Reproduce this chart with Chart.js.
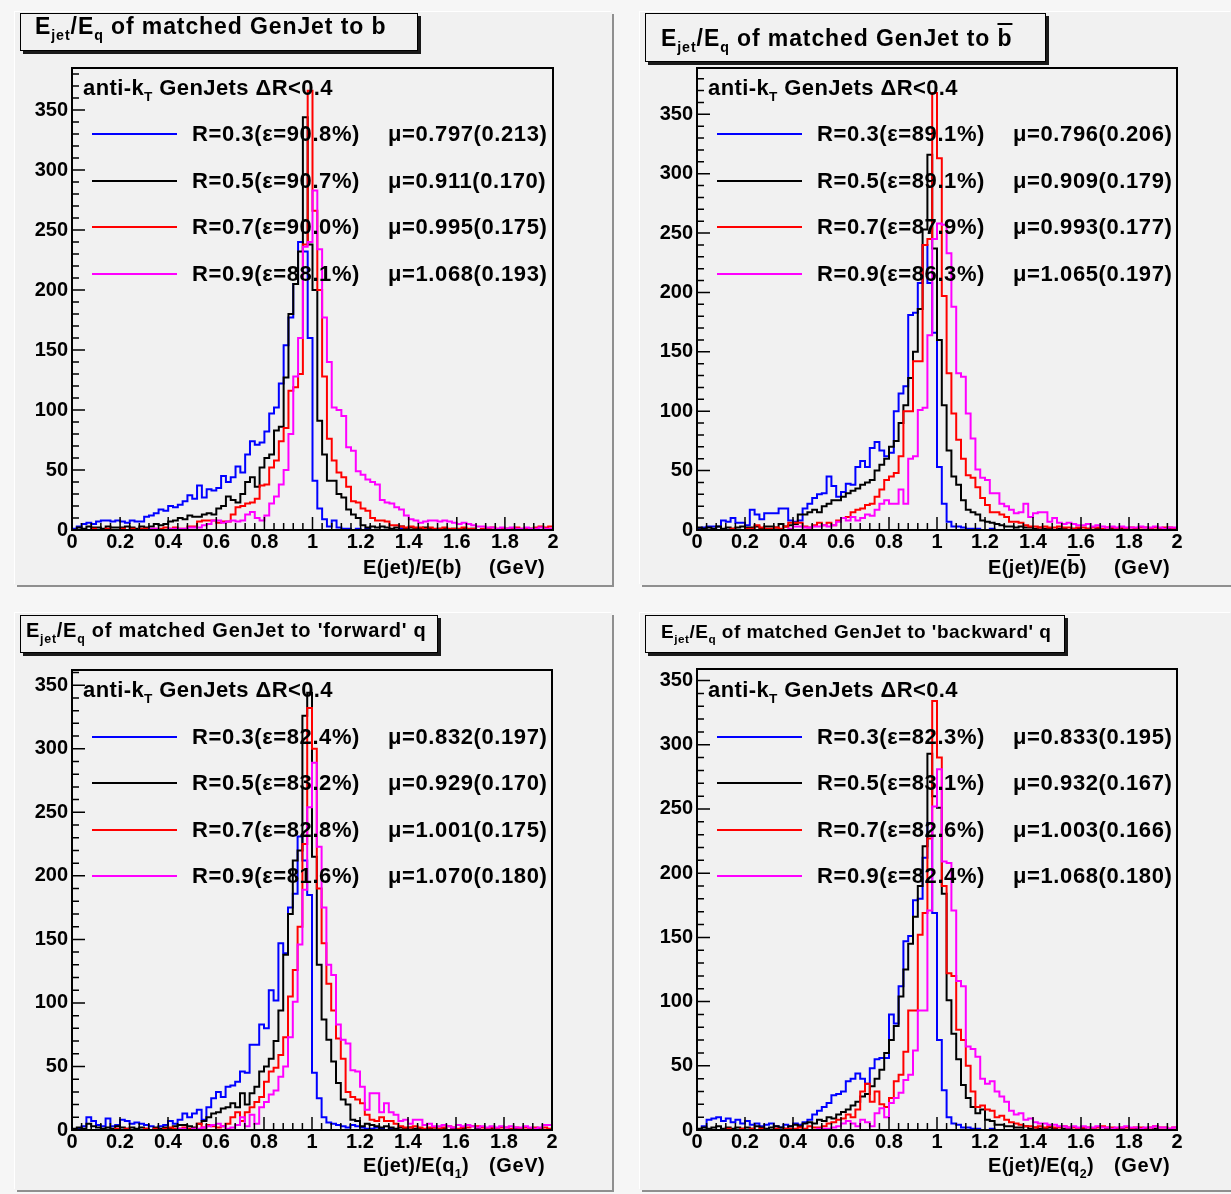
<!DOCTYPE html>
<html lang="en">
<head>
<meta charset="UTF-8">
<title>Ejet/Eq of matched GenJets</title>
<script src="https://cdn.jsdelivr.net/npm/chart.js"></script>
<style>
    body { margin: 0; background: #f6f6f6; width: 1231px; height: 1194px; overflow: hidden; position: relative; font-family: 'Liberation Sans', Arial, sans-serif; }
    .pad { position: absolute; background: #f1f1f1; box-shadow: -1px -1px 0 #ffffff, 2px 2px 0 #8f8f8f; }
    .pad canvas { position: absolute; left: 0; top: 0; }
    .txt { position: absolute; font-weight: bold; white-space: pre; color: #000; line-height: 26px; height: 26px; }
    .txt sub, .title-box sub { font-size: 0.62em; vertical-align: -0.45em; line-height: 0; }
    .title-box { position: absolute; border: 1px solid #000; box-shadow: 3px 3px 0 #1a1a1a; background: #f1f1f1; box-sizing: border-box; font-weight: bold; white-space: pre; }
    .leg-line { position: absolute; height: 2px; width: 85px; }
    .ovl { text-decoration: overline; }
</style>
</head>
<body>

<script>
    // binning of all histograms: 100 bins between 0 and 2
    const nBins = 100, xLow = 0, xHigh = 2;
    const radii = ['0.3', '0.5', '0.7', '0.9'];
    const lineColors = ['#0000ff', '#000000', '#ff0000', '#ff00ff'];

    // matched to b
    const bR03 = [1,3,5,6,5,7,8,8,7,8, 7,6,8,7,7,11,12,14,17,16, 20,19,21,24,29,26,37,27,34,33, 35,45,40,44,53,48,63,74,71,73,
        82,97,102,122,154,177,205,240,232,160, 41,18,9,3,8,2,1,1,0,1, 0,1,0,0,0,0,0,0,1,0, 0,0,0,0,0,0,0,0,0,0, 0,0,0,0,0,0,0,0,0,0, 0,0,0,0,0,0,0,0,0,0];
    const bR05 = [0,2,1,3,2,2,1,3,2,2, 2,3,2,1,3,2,3,5,4,5, 7,8,10,9,12,11,11,13,14,13, 18,20,28,25,23,30,40,44,36,52,
        60,63,83,86,127,180,205,232,344,238, 200,91,63,41,41,30,27,17,13,10, 4,2,3,2,3,2,1,2,3,1, 2,1,1,2,1,0,1,1,0,1, 0,1,0,1,0,0,1,0,0,0, 1,0,0,0,0,1,0,0,0,0];
    const bR07 = [0,0,0,0,1,0,0,1,0,0, 1,0,1,0,1,1,0,1,1,2, 1,2,1,1,3,3,7,8,8,8, 6,7,7,13,19,20,22,23,26,37,
        38,52,58,74,85,116,119,130,238,366, 266,200,128,76,58,48,44,36,24,23, 18,16,10,8,8,7,4,4,3,2, 3,2,2,1,2,1,1,2,1,1, 1,2,1,1,0,1,1,2,1,1, 1,1,2,1,1,1,2,3,2,3];
    const bR09 = [0,0,0,0,0,0,0,0,0,0, 0,0,0,0,0,0,1,1,0,0, 1,1,1,1,2,2,2,4,5,8, 8,6,7,8,7,8,13,15,10,8,
        12,22,28,38,50,80,128,160,236,240, 283,234,177,140,102,100,95,69,66,49, 46,42,40,38,25,23,22,19,17,12, 9,8,6,7,8,8,7,8,7,6, 5,6,5,4,3,3,2,2,1,2, 1,2,1,1,2,1,1,2,1,1];
    const bEff = ['90.8', '90.7', '90.0', '88.1'];
    const bMu = ['0.797(0.213)', '0.911(0.170)', '0.995(0.175)', '1.068(0.193)'];

    // matched to b-bar
    const bbarR03 = [1,2,3,3,3,8,7,10,6,6, 4,17,13,9,14,14,14,18,18,8, 7,8,18,22,27,30,31,45,37,28, 32,39,38,53,58,53,69,74,67,62,
        65,100,115,121,181,183,208,240,208,166, 53,22,7,3,3,2,1,1,1,0, 0,1,0,0,0,0,0,0,0,0, 0,0,0,0,0,0,0,0,0,0, 0,0,0,0,0,0,0,0,0,0, 0,0,0,0,0,0,0,0,0,0];
    const bbarR05 = [2,1,2,1,3,1,2,1,2,3, 2,2,3,1,3,3,2,5,3,4, 5,13,13,15,17,15,20,22,25,25, 28,31,33,35,38,40,42,50,55,60,
        70,75,90,105,128,150,186,253,316,237, 160,105,67,45,38,25,17,15,13,8, 7,6,5,4,3,3,2,3,2,2, 1,2,1,1,0,1,1,0,1,1, 0,1,0,1,0,0,1,0,1,0, 0,1,0,0,1,0,0,0,1,0];
    const bbarR07 = [0,0,0,0,0,0,0,1,0,0, 1,1,4,2,1,1,2,1,3,6, 6,6,3,2,4,6,4,6,4,8, 10,11,15,17,18,21,22,28,34,42,
        45,48,62,100,100,142,142,240,245,368, 313,197,132,98,76,60,46,44,36,27, 21,15,15,13,11,7,7,6,4,3, 3,2,3,2,2,3,2,2,1,2, 2,1,2,2,1,2,2,1,2,1, 2,1,2,2,1,2,1,2,2,1];
    const bbarR09 = [0,0,0,0,0,0,0,0,0,0, 0,0,0,0,0,0,0,0,0,1, 3,3,2,2,3,3,4,3,4,7, 10,8,11,8,10,13,12,17,22,25,
        22,22,34,22,60,62,101,103,164,245, 258,257,233,188,132,129,98,77,51,44, 42,31,31,22,20,17,14,15,22,11, 14,15,15,7,10,6,5,6,5,4, 4,5,3,4,3,2,3,2,3,2, 2,2,3,2,2,3,2,1,2,2];
    const bbarEff = ['89.1', '89.1', '87.9', '86.3'];
    const bbarMu = ['0.796(0.206)', '0.909(0.179)', '0.993(0.177)', '1.065(0.197)'];

    // matched to 'forward' q
    const fwdR03 = [0,1,3,10,7,4,3,9,3,4, 8,7,5,6,5,4,3,1,3,4, 7,5,8,13,10,13,16,8,18,25, 30,26,34,35,38,46,45,67,67,83,
        80,110,102,147,139,175,186,231,212,185, 45,25,10,6,5,4,3,2,4,3, 2,1,1,2,1,0,1,0,0,1, 0,0,1,0,0,0,0,0,0,0, 0,0,0,0,0,0,0,0,0,0, 0,0,0,0,0,0,0,0,0,0];
    const fwdR05 = [1,2,1,5,3,2,1,2,1,3, 2,1,2,1,2,1,0,2,1,2, 1,3,4,4,3,2,5,7,10,13, 14,17,18,21,18,29,20,29,34,46,
        50,56,70,94,138,170,212,220,326,344, 215,130,87,71,54,37,24,20,8,7, 3,5,4,3,2,3,2,1,2,1, 2,1,1,0,1,2,1,1,0,1, 0,1,0,0,1,0,0,1,0,0, 0,0,1,0,0,0,0,1,0,0];
    const fwdR07 = [0,0,0,0,0,0,0,0,0,1, 0,1,0,0,0,1,0,1,0,1, 2,1,1,2,1,1,5,2,4,3, 2,3,5,10,14,7,14,18,22,26,
        38,46,49,59,73,105,126,160,225,332, 300,190,147,115,94,72,56,30,26,24, 21,12,8,7,10,7,7,5,3,2, 2,3,2,1,2,2,1,2,3,2, 1,2,2,3,3,2,1,2,1,2, 2,1,2,1,2,1,2,1,2,1];
    const fwdR09 = [0,0,0,0,0,0,0,0,0,0, 0,0,0,0,0,0,0,0,0,0, 0,0,1,1,0,1,1,2,3,4, 5,3,1,2,4,10,3,12,5,18,
        22,28,31,42,50,73,101,146,189,254, 289,223,175,130,122,83,71,68,47,46, 34,16,29,29,14,21,14,12,7,8, 5,8,8,4,5,3,3,4,3,2, 4,3,4,3,2,3,2,3,2,3, 2,3,2,2,3,2,1,2,4,4];
    const fwdEff = ['82.4', '83.2', '82.8', '81.6'];
    const fwdMu = ['0.832(0.197)', '0.929(0.170)', '1.001(0.175)', '1.070(0.180)'];

    // matched to 'backward' q
    const bwdR03 = [0,3,8,9,10,7,9,6,8,5, 7,4,5,3,4,5,3,2,4,3, 5,4,6,8,12,15,18,21,27,28, 30,38,40,44,40,36,48,55,56,56,
        90,83,112,147,151,179,180,212,239,169, 70,31,10,5,4,2,2,1,1,0, 0,1,0,0,0,0,0,0,0,0, 0,0,0,0,0,0,0,0,0,0, 0,0,0,0,0,0,0,0,0,0, 0,0,0,0,0,0,0,0,0,0];
    const bwdR05 = [1,2,1,2,3,1,2,1,2,1, 2,1,3,2,1,2,3,2,1,3, 4,3,5,6,5,8,7,10,9,12, 14,16,19,22,26,28,34,40,47,60,
        70,81,104,125,145,166,190,221,293,260, 251,184,101,75,55,35,25,18,13,16, 8,7,4,4,3,3,2,2,3,1, 2,1,1,2,1,0,1,1,0,1, 1,0,1,0,0,1,0,0,1,0, 0,1,0,0,0,1,0,0,0,0];
    const bwdR07 = [0,0,0,0,0,0,1,0,0,1, 0,1,0,1,0,0,1,0,1,1, 1,2,1,3,2,2,3,5,6,8, 9,12,10,16,30,36,22,30,20,18,
        25,38,43,61,93,93,152,169,227,334, 290,190,122,120,78,70,50,30,18,19, 16,15,10,11,8,6,5,4,3,3, 2,3,2,3,2,2,3,2,2,1, 2,2,1,2,3,2,2,1,2,2, 1,2,2,1,2,3,2,2,1,2];
    const bwdR09 = [0,0,0,0,0,0,0,0,0,0, 0,0,0,0,0,0,0,0,0,0, 0,0,0,0,0,1,1,1,2,3, 5,7,5,3,8,6,3,13,17,10,
        21,25,29,39,43,62,93,93,171,252, 281,209,208,171,116,112,65,63,57,40, 36,38,30,26,22,15,12,13,8,9, 6,5,5,4,4,3,3,2,3,2, 3,2,2,3,2,2,1,2,2,3, 2,2,1,2,2,3,2,2,1,2];
    const bwdEff = ['82.3', '83.1', '82.6', '82.4'];
    const bwdMu = ['0.833(0.195)', '0.932(0.167)', '1.003(0.166)', '1.068(0.180)'];

    const xTickValues = [0, 0.2, 0.4, 0.6, 0.8, 1, 1.2, 1.4, 1.6, 1.8, 2];

    // pads on the page
    const pads = [
        { left: 15, top: 12, width: 597, height: 573, area: { l: 57, t: 56, r: 538, b: 518 }, yMax: 385,
          series: [bR03, bR05, bR07, bR09], eff: bEff, mu: bMu,
          title: 'E<sub>jet</sub>/E<sub>q</sub> of matched GenJet to b',
          titleBox: { x: 5, y: 1, w: 398, h: 38, size: 23, padL: 14, padT: 1, ls: 0.9 },
          xTitle: 'E(jet)/E(b)', rows: [122, 169, 215, 262], header: 76, xTitleY: 555 },
        { left: 640, top: 12, width: 591, height: 573, area: { l: 57, t: 56, r: 537, b: 518 }, yMax: 389,
          series: [bbarR03, bbarR05, bbarR07, bbarR09], eff: bbarEff, mu: bbarMu,
          title: 'E<sub>jet</sub>/E<sub>q</sub> of matched GenJet to <span class="ovl">b</span>',
          titleBox: { x: 5, y: 1, w: 401, h: 49, size: 23, padL: 15, padT: 13, ls: 0.9 },
          xTitle: 'E(jet)/E(<span class="ovl">b</span>)', rows: [122, 169, 215, 262], header: 76, xTitleY: 555 },
        { left: 15, top: 613, width: 597, height: 577, area: { l: 57, t: 57, r: 537, b: 517 }, yMax: 362,
          series: [fwdR03, fwdR05, fwdR07, fwdR09], eff: fwdEff, mu: fwdMu,
          title: 'E<sub>jet</sub>/E<sub>q</sub> of matched GenJet to \'forward\' q',
          titleBox: { x: 5, y: 2, w: 418, h: 38, size: 20, padL: 5, padT: 4, ls: 0.75 },
          xTitle: 'E(jet)/E(q<sub>1</sub>)', rows: [124, 170, 217, 263], header: 77, xTitleY: 552 },
        { left: 640, top: 613, width: 591, height: 577, area: { l: 57, t: 56, r: 537, b: 517 }, yMax: 359,
          series: [bwdR03, bwdR05, bwdR07, bwdR09], eff: bwdEff, mu: bwdMu,
          title: 'E<sub>jet</sub>/E<sub>q</sub> of matched GenJet to \'backward\' q',
          titleBox: { x: 5, y: 2, w: 420, h: 38, size: 19, padL: 15, padT: 6, ls: 0.5 },
          xTitle: 'E(jet)/E(q<sub>2</sub>)', rows: [124, 170, 217, 263], header: 77, xTitleY: 552 },
    ];

    // ROOT style frame with inward ticks
    const rootFrame = {
        id: 'rootFrame',
        afterDatasetsDraw(chart) {
            const { ctx, chartArea: a, scales: { x, y } } = chart;
            ctx.save();
            ctx.strokeStyle = '#000';
            ctx.lineWidth = 1.5;
            ctx.beginPath();
            for (let i = 0; i <= 50; i++) {
                const px = x.getPixelForValue(i * 0.04);
                const len = i % 5 === 0 ? 13 : 7;
                ctx.moveTo(px, a.bottom);
                ctx.lineTo(px, a.bottom - len);
            }
            for (let v = 0; v <= y.max; v += 10) {
                const py = y.getPixelForValue(v);
                const len = v % 50 === 0 ? 13 : 7;
                ctx.moveTo(a.left, py);
                ctx.lineTo(a.left + len, py);
            }
            ctx.stroke();
            ctx.lineWidth = 2;
            ctx.strokeRect(a.left, a.top, a.right - a.left, a.bottom - a.top);
            ctx.restore();
        }
    };

    function histPoints(values) {
        const w = (xHigh - xLow) / nBins;
        const pts = values.map((v, i) => ({ x: xLow + i * w, y: v }));
        pts.push({ x: xHigh, y: values[values.length - 1] });
        return pts;
    }

    function addText(parent, html, x, y, size, extra) {
        const d = document.createElement('div');
        d.className = 'txt';
        d.innerHTML = html;
        d.style.left = x + 'px';
        d.style.top = (y - 13) + 'px';
        d.style.fontSize = size + 'px';
        if (extra) Object.assign(d.style, extra);
        parent.appendChild(d);
        return d;
    }

    pads.forEach((p) => {
        const pad = document.createElement('div');
        pad.className = 'pad';
        Object.assign(pad.style, { left: p.left + 'px', top: p.top + 'px', width: p.width + 'px', height: p.height + 'px' });
        document.body.appendChild(pad);

        const canvas = document.createElement('canvas');
        canvas.width = p.width;
        canvas.height = p.height;
        canvas.style.width = p.width + 'px';
        canvas.style.height = p.height + 'px';
        pad.appendChild(canvas);

        const tickFont = { family: "'Liberation Sans', Arial, sans-serif", size: 20, weight: 'bold' };

        new Chart(canvas.getContext('2d'), {
            type: 'line',
            data: {
                datasets: p.series.map((s, i) => ({
                    label: 'R=' + radii[i],
                    data: histPoints(s),
                    borderColor: lineColors[i],
                    borderWidth: 2,
                    pointRadius: 0,
                    stepped: true,
                    fill: false,
                    tension: 0,
                    order: 4 - i,
                })),
            },
            options: {
                responsive: false,
                animation: false,
                events: [],
                layout: { padding: { left: 0, top: p.area.t, right: p.width - p.area.r, bottom: 0 } },
                plugins: { legend: { display: false }, tooltip: { enabled: false } },
                scales: {
                    x: {
                        type: 'linear', min: xLow, max: xHigh,
                        afterFit: (s) => { s.height = p.height - p.area.b; },
                        afterBuildTicks: (s) => { s.ticks = xTickValues.map((v) => ({ value: v })); },
                        grid: { display: false, drawTicks: false },
                        border: { display: false },
                        ticks: { color: '#000', font: tickFont, padding: 0, maxRotation: 0, autoSkip: false,
                                 callback: (v) => String(Math.round(v * 10) / 10) },
                    },
                    y: {
                        min: 0, max: p.yMax,
                        afterFit: (s) => { s.width = p.area.l; },
                        grid: { display: false, drawTicks: false },
                        border: { display: false },
                        ticks: { color: '#000', font: tickFont, padding: 4, stepSize: 50, includeBounds: false },
                    },
                },
            },
            plugins: [rootFrame],
        });

        // title box
        const tb = document.createElement('div');
        tb.className = 'title-box';
        tb.innerHTML = p.title;
        Object.assign(tb.style, {
            left: p.titleBox.x + 'px', top: p.titleBox.y + 'px', width: p.titleBox.w + 'px', height: p.titleBox.h + 'px',
            fontSize: p.titleBox.size + 'px', lineHeight: p.titleBox.size + 'px',
            paddingLeft: p.titleBox.padL + 'px', paddingTop: p.titleBox.padT + 'px', letterSpacing: p.titleBox.ls + 'px',
        });
        pad.appendChild(tb);

        // legend
        addText(pad, 'anti-k<sub>T</sub> GenJets \u0394R&lt;0.4', 68, p.header, 22, { letterSpacing: '0.4px' });
        p.rows.forEach((ry, i) => {
            const ln = document.createElement('div');
            ln.className = 'leg-line';
            Object.assign(ln.style, { left: '77px', top: (ry - 1) + 'px', background: lineColors[i] });
            pad.appendChild(ln);
            addText(pad, 'R=' + radii[i] + '(\u03b5=' + p.eff[i] + '%)', 177, ry, 22, { letterSpacing: '0.6px' });
            addText(pad, '\u03bc=' + p.mu[i], 373, ry, 22, { letterSpacing: '0.6px' });
        });

        // x axis title
        addText(pad, p.xTitle, 348, p.xTitleY, 20, { letterSpacing: '0.4px' });
        addText(pad, '(GeV)', 474, p.xTitleY, 20, { letterSpacing: '0.6px' });
    });
</script>
</body>
</html>
